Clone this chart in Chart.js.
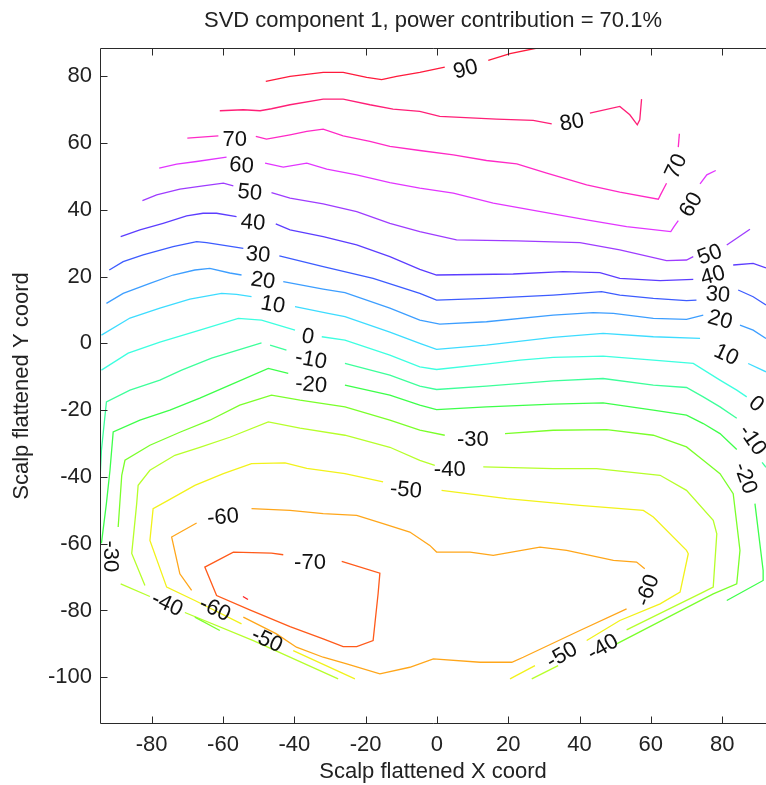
<!DOCTYPE html>
<html>
<head>
<meta charset="utf-8">
<script src="https://cdn.jsdelivr.net/npm/chart.js@4.4.1/dist/chart.umd.min.js"></script>
<style>
  html, body { margin: 0; padding: 0; background: #fff; }
</style>
</head>
<body>
<canvas id="svd" width="766" height="785"></canvas>
<script>
// axis ranges and tick values
const xRange = [-94.5, 92.3];
const yRange = [-114, 88.5];
const xTicks = [-80, -60, -40, -20, 0, 20, 40, 60, 80];
const yTicks = [-100, -80, -60, -40, -20, 0, 20, 40, 60, 80];

// contour levels, each level is a list of line pieces of [x, y] points
const levels = [90, 80, 70, 60, 50, 40, 30, 20, 10, 0, -10, -20, -30, -40, -50, -60, -70, -80];

const level90 = [
  [[-48.0, 78.5], [-41.2, 80.0], [-31.9, 81.2], [-26.3, 81.2], [-19.7, 79.7], [-15.5, 79.0], [-11.3, 80.0], [-4.8, 81.2], [2.2, 82.8]],
  [[14.4, 84.8], [20.5, 86.8], [28.1, 88.5]]
];
const level80 = [
  [[-60.9, 69.7], [-54.3, 70.0], [-49.6, 69.7], [-46.4, 70.3], [-41.2, 71.5], [-31.9, 73.2], [-26.3, 73.2], [-18.8, 71.5], [-12.3, 70.2], [-4.8, 69.5], [0.8, 68.0], [16.7, 67.2], [27.0, 66.8], [32.2, 65.8]],
  [[42.9, 69.0], [51.3, 71.0], [54.1, 68.5], [56.2, 65.5], [56.9, 67.0], [57.4, 73.2]]
];
const level70 = [
  [[-70.0, 61.5], [-61.3, 62.2]],
  [[-50.8, 62.0], [-47.8, 61.2], [-41.2, 62.5], [-36.5, 63.5], [-31.9, 64.2], [-26.3, 62.2], [-18.8, 60.5], [-13.2, 59.0], [-4.8, 57.8], [4.6, 56.5], [13.9, 54.8], [22.4, 53.8], [30.8, 51.0], [42.0, 47.5], [51.3, 45.3], [62.1, 43.2], [62.7, 44.5], [64.4, 48.0]],
  [[67.7, 58.8], [68.0, 62.8]]
];
const level60 = [
  [[-77.9, 52.5], [-73.0, 53.7], [-67.4, 54.5], [-59.0, 55.8]],
  [[-48.2, 54.0], [-43.1, 52.8], [-36.5, 54.0], [-30.9, 52.2], [-22.5, 50.5], [-13.2, 48.2], [-4.8, 46.5], [4.6, 45.0], [15.8, 42.0], [32.6, 38.8], [42.0, 37.0], [53.2, 35.0], [65.6, 33.5], [66.5, 35.0], [67.7, 36.8]],
  [[73.8, 47.8], [75.7, 50.5], [78.2, 51.8]]
];
const level50 = [
  [[-82.6, 42.8], [-78.6, 44.5], [-72.1, 46.2], [-65.6, 47.2], [-59.9, 48.0], [-57.1, 47.2]],
  [[-46.4, 45.2], [-41.2, 43.5], [-31.9, 41.8], [-22.5, 39.5], [-13.2, 36.0], [-4.8, 33.5], [5.5, 31.0], [22.4, 30.7], [40.1, 30.2], [51.3, 28.0], [64.4, 24.8], [70.0, 25.0], [71.9, 26.0]],
  [[81.3, 29.5], [87.8, 34.2]]
];
const level40 = [
  [[-88.7, 32.0], [-83.3, 34.0], [-76.8, 36.0], [-70.2, 38.2], [-65.6, 39.0], [-61.8, 39.0], [-56.2, 38.0]],
  [[-45.2, 35.8], [-41.2, 34.0], [-31.9, 32.0], [-22.5, 29.5], [-13.2, 26.0], [-4.8, 22.2], [-0.1, 20.5], [21.4, 20.8], [35.4, 21.5], [45.7, 21.2], [51.3, 19.5], [62.6, 18.8], [71.9, 19.2]],
  [[83.1, 23.5], [88.7, 24.0], [92.3, 22.6]]
];
const level30 = [
  [[-91.9, 22.0], [-88.0, 24.5], [-82.4, 26.5], [-74.0, 29.0], [-67.4, 30.5], [-64.6, 30.2], [-54.3, 28.5]],
  [[-44.2, 26.2], [-31.9, 23.0], [-17.9, 19.5], [-4.8, 15.0], [-0.1, 13.0], [13.9, 13.5], [32.6, 14.5], [46.2, 15.5], [51.3, 14.5], [60.7, 13.5], [70.0, 12.8], [72.8, 13.0]],
  [[84.5, 16.0], [88.7, 14.0], [92.3, 11.5]]
];
const level20 = [
  [[-92.7, 12.0], [-88.0, 15.0], [-80.5, 18.0], [-74.0, 20.5], [-67.9, 22.0], [-63.7, 22.5], [-58.1, 21.1], [-54.8, 20.5]],
  [[-43.1, 18.5], [-31.9, 16.3], [-25.8, 15.2], [-13.2, 10.6], [-4.8, 7.0], [0.8, 5.8], [13.9, 6.5], [32.6, 8.5], [43.8, 9.2], [49.5, 9.0], [60.7, 7.5], [70.0, 7.2], [74.7, 8.5]],
  [[85.0, 5.5], [88.7, 4.0], [92.3, 1.5]]
];
const level10 = [
  [[-94.1, 2.5], [-86.1, 7.6], [-77.7, 10.6], [-69.3, 13.3], [-60.4, 15.0], [-56.2, 14.7], [-52.0, 14.0]],
  [[-39.8, 11.0], [-30.5, 9.0], [-25.8, 8.0], [-13.2, 3.4], [-4.8, 0.0], [-0.1, -1.8], [13.9, -0.5], [32.6, 1.8], [46.6, 3.0], [60.7, 2.0], [73.8, 1.5]],
  [[87.3, -6.0], [92.3, -8.5]]
];
const level0 = [
  [[-94.1, -8.0], [-86.6, -2.9], [-77.7, 0.4], [-66.5, 4.0], [-55.7, 7.5], [-49.2, 7.0], [-39.8, 4.0]],
  [[-32.3, 2.0], [-25.8, 1.0], [-13.2, -3.5], [-4.8, -7.0], [-0.1, -7.8], [13.9, -6.2], [23.3, -5.0], [32.6, -4.2], [46.6, -3.8], [60.7, -5.0], [71.9, -6.0], [79.4, -11.0], [84.1, -14.0], [86.9, -16.0]]
];
const levelM10 = [
  [[-94.5, -41.0], [-94.1, -32.0], [-92.7, -17.5], [-86.1, -14.0], [-77.7, -11.0], [-71.6, -8.0], [-63.2, -4.4], [-49.2, 0.2]],
  [[-46.8, -0.5], [-42.2, -2.0]],
  [[-25.8, -6.0], [-13.2, -9.5], [-4.8, -12.8], [-0.1, -13.8], [13.9, -12.8], [32.6, -11.2], [46.6, -10.5], [60.7, -12.5], [70.0, -13.2], [74.7, -16.0], [79.4, -19.0], [84.1, -22.4]],
  [[91.2, -35.6], [92.3, -37.1]]
];
const levelM20 = [
  [[-94.1, -59.9], [-92.7, -47.9], [-91.7, -38.0], [-90.8, -26.5], [-83.3, -23.0], [-74.9, -20.0], [-66.5, -16.4], [-58.1, -12.5], [-47.3, -7.5], [-41.7, -9.0]],
  [[-25.8, -12.5], [-13.2, -15.5], [-4.8, -18.5], [-0.1, -19.8], [13.9, -19.0], [32.6, -18.2], [46.6, -17.8], [60.7, -20.0], [70.0, -21.5], [74.7, -24.0], [79.4, -27.0], [84.1, -31.8]],
  [[89.2, -48.0], [91.5, -68.0], [91.5, -71.0], [81.3, -77.0]]
];
const levelM30 = [
  [[-89.4, -55.0], [-88.4, -39.5], [-87.5, -35.0], [-80.5, -30.5], [-72.1, -26.6], [-63.7, -23.0], [-55.3, -18.5], [-46.4, -15.5], [-38.4, -17.0], [-25.8, -19.0], [-13.2, -23.0], [-4.8, -26.0], [2.2, -27.5]],
  [[19.1, -27.0], [32.6, -26.0], [47.6, -25.8], [60.7, -27.5], [70.0, -31.0], [74.7, -35.0], [79.4, -39.0], [83.1, -45.0], [85.0, -62.0], [84.1, -72.0], [77.5, -75.0], [50.4, -90.0]],
  [[-67.9, -82.0], [-60.9, -86.0]]
];
const levelM40 = [
  [[-81.9, -72.5], [-85.6, -62.9], [-84.2, -47.9], [-83.8, -42.5], [-80.5, -38.0], [-73.5, -33.5], [-66.5, -31.1], [-58.1, -28.1], [-47.3, -23.5], [-38.4, -25.4], [-25.8, -27.5], [-13.2, -31.1], [-4.8, -35.0], [-0.6, -36.5]],
  [[13.0, -37.0], [32.6, -37.5], [44.8, -37.5], [62.6, -39.5], [70.0, -44.0], [77.5, -53.0], [78.5, -57.0], [77.5, -73.0], [74.7, -74.5], [53.2, -85.8]],
  [[34.0, -96.5], [26.6, -100.5]],
  [[-88.7, -72.0], [-80.5, -75.8]],
  [[-70.7, -80.6], [-51.5, -89.0], [-27.7, -100.5]]
];
const levelM50 = [
  [[-54.8, -84.0], [-67.9, -77.0], [-75.8, -73.0], [-80.5, -59.0], [-79.6, -49.5], [-75.4, -47.0], [-67.9, -42.5], [-59.9, -39.0], [-52.0, -36.0], [-42.6, -35.8], [-36.5, -37.4], [-25.8, -39.0], [-15.1, -41.5]],
  [[1.3, -44.0], [19.6, -46.5], [40.1, -48.5], [57.9, -50.0], [60.7, -52.0], [70.0, -62.0], [70.5, -63.0], [68.2, -74.5], [62.6, -78.0], [51.3, -83.0], [42.0, -89.0]],
  [[27.5, -96.5], [20.5, -100.5]],
  [[-40.3, -92.0], [-23.0, -100.5]]
];
const levelM60 = [
  [[-52.0, -49.5], [-41.2, -50.0], [-31.9, -51.0], [-22.5, -51.5], [-15.1, -54.0], [-7.6, -56.5], [-2.0, -60.5], [-0.1, -62.5], [9.3, -62.5], [15.8, -63.5], [28.9, -61.0], [36.4, -62.0], [49.5, -65.0], [56.0, -65.5], [58.3, -67.5]],
  [[53.2, -79.5], [40.1, -86.0], [24.2, -94.0], [21.0, -95.5], [12.1, -95.5], [-1.0, -94.5], [-7.6, -97.0], [-16.0, -99.0], [-25.3, -96.0], [-31.9, -94.0], [-39.4, -91.0], [-45.0, -87.0], [-54.3, -82.0]],
  [[-68.8, -74.0], [-72.1, -69.0], [-74.4, -58.0], [-67.4, -53.8]]
];
const levelM70 = [
  [[-26.7, -65.3], [-16.0, -68.8], [-16.5, -75.0], [-17.4, -84.0], [-17.9, -89.0], [-22.5, -90.8], [-26.3, -90.8], [-31.9, -88.5], [-41.2, -84.8], [-52.5, -79.8], [-61.8, -75.5], [-65.1, -67.0], [-57.1, -62.5], [-46.4, -62.8], [-43.1, -63.3]]
];
const levelM80 = [
  [[-54.4, -75.8], [-53.0, -76.7]]
];

const contours = [level90, level80, level70, level60, level50, level40, level30, level20, level10,
  level0, levelM10, levelM20, levelM30, levelM40, levelM50, levelM60, levelM70, levelM80];

// inline contour labels
const labelText = ['90', '80', '70', '70', '60', '60', '50', '50', '40', '40', '30', '30', '20', '20', '10', '10',
  '0', '0', '-10', '-10', '-20', '-20', '-30', '-30', '-40', '-40', '-40', '-50', '-50', '-50', '-60', '-60', '-60', '-70'];
const labelX = [8.1, 37.9, -56.7, 67.2, -54.8, 71.4, -52.5, 76.6, -51.6, 77.4, -50.2, 78.8, -48.8, 79.4, -46.0, 81.1,
  -36.2, 89.5, -35.3, 88.4, -35.3, 86.4, 10.1, -91.7, 3.6, -75.7, 46.6, -8.7, -47.7, 35.1, -60.0, -62.3, 59.2, -35.6];
const labelY = [82.0, 66.1, 61.0, 53.0, 53.2, 41.5, 45.1, 26.5, 36.1, 20.2, 26.5, 14.5, 18.7, 7.0, 11.5, -3.5,
  1.9, -18.2, -5.0, -29.0, -12.5, -40.4, -29.0, -63.8, -38.0, -78.2, -91.1, -44.0, -89.0, -93.5, -52.1, -79.7, -74.0, -65.9];
const labelAngle = [-15, -10, 0, -65, 5, -60, 5, -20, 5, -15, 5, 5, 8, 15, 10, 25,
  10, 40, 10, 55, 5, 70, 0, 90, 0, 25, -30, 5, 25, -30, -5, 25, -70, 0];

const levelColors = ['#ff1a3c', '#ff1f77', '#ff29c6', '#e235ff', '#9e3cff', '#5c3dff', '#3d5cff', '#3d9eff', '#3ddcff',
  '#3dffe0', '#3dff9a', '#3dff4a', '#7aff2a', '#b6ff2a', '#f2f21a', '#ffa61a', '#ff5a1a', '#ff2020'];

const fontFamily = '"Liberation Sans", Arial, sans-serif';
const titleText = 'SVD component 1, power contribution = 70.1%';

// every piece of every level becomes its own line dataset
const datasets = [];
contours.forEach((pieces, i) => {
  pieces.forEach(piece => {
    datasets.push({
      label: String(levels[i]),
      data: piece.map(p => ({ x: p[0], y: p[1] })),
      showLine: true,
      borderColor: levelColors[i],
      borderWidth: 1.3,
      pointRadius: 0,
      fill: false,
      tension: 0
    });
  });
});

// axis box with inward ticks, the title and the contour labels
const frame = {
  id: 'frame',
  afterDraw(chart) {
    const { ctx, chartArea: a, scales: { x, y } } = chart;
    ctx.save();

    ctx.font = '22px ' + fontFamily;
    ctx.fillStyle = '#111';
    ctx.textAlign = 'center';
    ctx.textBaseline = 'middle';
    labelText.forEach((t, i) => {
      ctx.save();
      ctx.translate(x.getPixelForValue(labelX[i]), y.getPixelForValue(labelY[i]));
      ctx.rotate(labelAngle[i] * Math.PI / 180);
      ctx.fillText(t, 0, 0);
      ctx.restore();
    });

    ctx.fillStyle = '#222';
    ctx.fillText(titleText, (a.left + a.right) / 2, 21);

    ctx.strokeStyle = '#2a2a2a';
    ctx.lineWidth = 1;
    const L = Math.round(a.left) + 0.5, T = Math.round(a.top) + 0.5, B = Math.round(a.bottom) - 0.5;
    ctx.beginPath();
    ctx.moveTo(a.right, T); ctx.lineTo(L, T); ctx.lineTo(L, B); ctx.lineTo(a.right, B);
    xTicks.forEach(v => {
      const px = Math.round(x.getPixelForValue(v)) + 0.5;
      ctx.moveTo(px, B); ctx.lineTo(px, B - 7);
      ctx.moveTo(px, T); ctx.lineTo(px, T + 7);
    });
    yTicks.forEach(v => {
      const py = Math.round(y.getPixelForValue(v)) + 0.5;
      ctx.moveTo(L, py); ctx.lineTo(L + 7, py);
    });
    ctx.stroke();
    ctx.restore();
  }
};

new Chart(document.getElementById('svd').getContext('2d'), {
  type: 'scatter',
  data: { datasets },
  options: {
    responsive: false,
    animation: false,
    devicePixelRatio: 1,
    layout: { padding: { top: 48, right: 0, bottom: 0, left: 0 } },
    plugins: { legend: { display: false }, tooltip: { enabled: false }, title: { display: false } },
    scales: {
      x: {
        type: 'linear', min: xRange[0], max: xRange[1],
        grid: { display: false, drawTicks: false }, border: { display: false },
        ticks: { font: { family: fontFamily, size: 22 }, color: '#222', padding: 8, maxRotation: 0, autoSkip: false },
        afterBuildTicks: s => { s.ticks = xTicks.map(v => ({ value: v })); },
        afterFit: s => { s.height = 61; },
        title: { display: true, text: 'Scalp flattened X coord', color: '#222', font: { family: fontFamily, size: 22 }, padding: { top: 0, bottom: 0 } }
      },
      y: {
        type: 'linear', min: yRange[0], max: yRange[1],
        grid: { display: false, drawTicks: false }, border: { display: false },
        ticks: { font: { family: fontFamily, size: 22 }, color: '#222', padding: 8, autoSkip: false },
        afterBuildTicks: s => { s.ticks = yTicks.map(v => ({ value: v })); },
        afterFit: s => { s.width = 100; },
        title: { display: true, text: 'Scalp flattened Y coord', color: '#222', font: { family: fontFamily, size: 22 }, padding: { top: 9, bottom: 0 } }
      }
    }
  },
  plugins: [frame]
});
</script>
</body>
</html>
